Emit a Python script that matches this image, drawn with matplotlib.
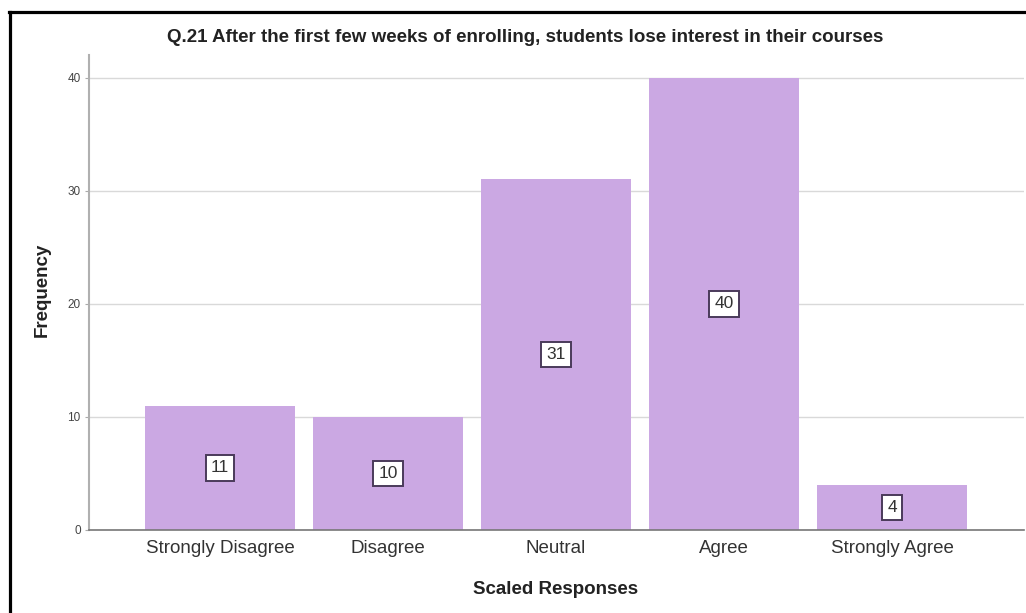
import matplotlib
matplotlib.use("Agg")
import matplotlib.pyplot as plt
from matplotlib.lines import Line2D

categories = ["Strongly Disagree", "Disagree", "Neutral", "Agree", "Strongly Agree"]
frequencies = [11, 10, 31, 40, 4]
yticks = [0, 10, 20, 30, 40]
title = "Q.21 After the first few weeks of enrolling, students lose interest in their courses"

plt.rcParams['font.family'] = ['Liberation Sans', 'DejaVu Sans']

W, H = 1026, 613
fig = plt.figure(figsize=(W/100, H/100), dpi=100)
ax = fig.add_axes([89/W, 1-530/H, (1024-89)/W, (530-55)/H])

x = list(range(len(categories)))
ax.bar(x, frequencies, width=0.89, color="#CBA8E3", zorder=2)
ax.set_xlim(-0.78, 4.786)
ax.set_ylim(0, 42)
ax.set_yticks(yticks)
ax.set_yticklabels([str(t) for t in yticks], fontsize=8.5, color="#444444")
ax.set_xticks(x)
ax.set_xticklabels(categories, fontsize=13.5, color="#333333")
ax.tick_params(axis='x', length=0, pad=7)
ax.tick_params(axis='y', length=3, color="#aaaaaa", pad=3)
ax.yaxis.grid(True, color="#d9d9d9", linewidth=1, zorder=0)
ax.set_axisbelow(True)
for s in ['top', 'right']:
    ax.spines[s].set_visible(False)
ax.spines['left'].set_color("#b0b0b0")
ax.spines['left'].set_linewidth(1.5)
ax.spines['bottom'].set_color("#777777")
ax.spines['bottom'].set_linewidth(1.2)

for xi, v in zip(x, frequencies):
    ax.text(xi, v/2, str(v), ha='center', va='center', fontsize=12.5, color="#333333", zorder=3,
            bbox=dict(boxstyle='square,pad=0.3', facecolor='white', edgecolor='#4a3a5a', linewidth=1.4))

fig.text(525/W, 1-38/H, title, ha='center', va='center', fontsize=13.5, fontweight='bold', color="#222222")
fig.text(42/W, 1-290/H, "Frequency", ha='center', va='center', rotation=90, fontsize=13.5, fontweight='bold', color="#222222")
fig.text(556/W, 1-589/H, "Scaled Responses", ha='center', va='center', fontsize=13.5, fontweight='bold', color="#222222")

# screenshot border (left and top)
fig.add_artist(Line2D([9.5/W, 9.5/W], [0, 1-12/H], transform=fig.transFigure, color='black', linewidth=2.3))
fig.add_artist(Line2D([8.5/W, 1], [1-12/H, 1-12/H], transform=fig.transFigure, color='black', linewidth=2.3))

fig.savefig("out.png", dpi=100)
